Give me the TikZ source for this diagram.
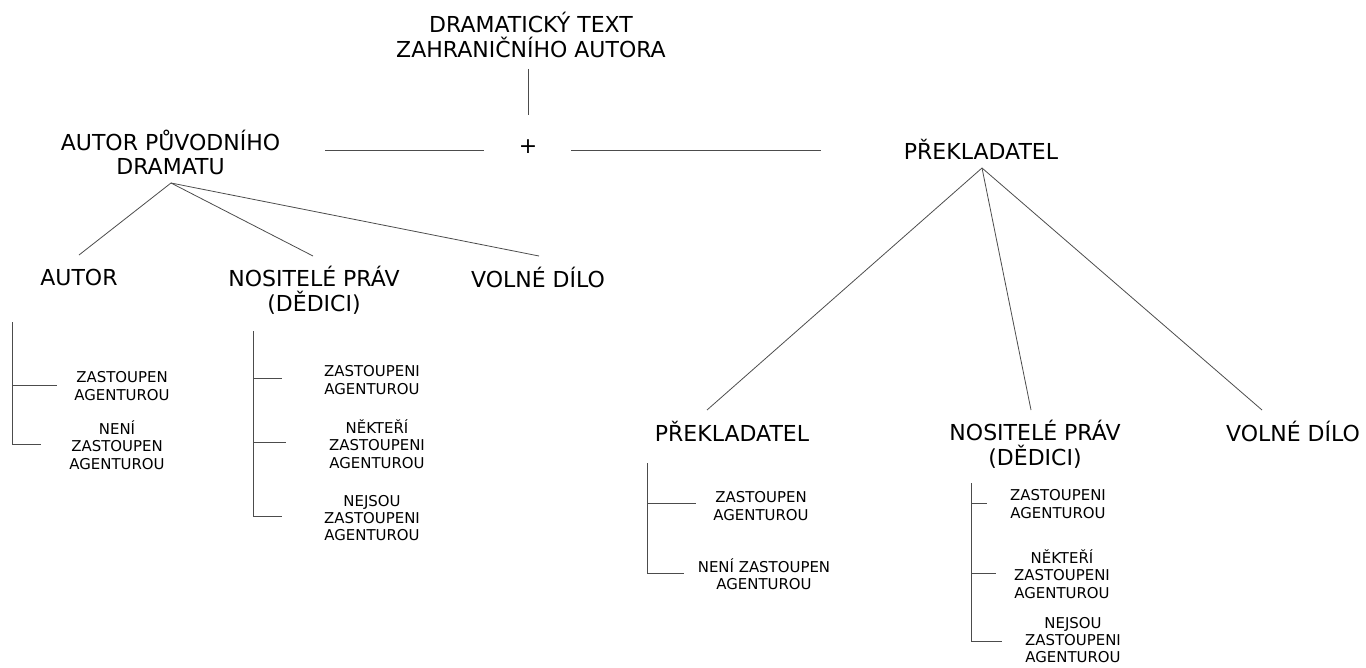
\documentclass[tikz,border=0pt]{standalone}
\usepackage{fontspec}
\setmainfont{DejaVu Sans}

\tikzset{
  big/.style={font=\fontsize{16.5}{18.5}\selectfont, align=center, inner sep=2pt},
  small/.style={font=\fontsize{11.2}{13}\selectfont, align=center, inner sep=1pt},
  conn/.style={draw=black!70, line width=0.6pt},
}

\begin{document}
\begin{tikzpicture}[x=0.75pt, y=-0.75pt]
  \useasboundingbox (0,0) rectangle (1366,667);

  % top of the tree
  \node[big] (text) at (531,35) {DRAMATICKÝ TEXT\\ZAHRANIČNÍHO AUTORA};
  \node[big] (plus) at (528,147) {+};
  \node[big] (autorpuv) at (170.5,152.5) {AUTOR PŮVODNÍHO\\DRAMATU};
  \node[big] (prekl) at (981,149.5) {PŘEKLADATEL};

  \coordinate (textend) at (528,69);
  \coordinate (plustop) at (528,115);
  \coordinate (hlA) at (325,150);
  \coordinate (hlB) at (484,150);
  \coordinate (hlC) at (571,150);
  \coordinate (hlD) at (821,150);

  \draw[conn] (textend) -- (plustop);
  \draw[conn] (hlA) -- (hlB);
  \draw[conn] (hlC) -- (hlD);

  % left branch
  \node[big] (autor) at (79,277) {AUTOR};
  \node[big] (nositel) at (314,290) {NOSITELÉ PRÁV\\(DĚDICI)};
  \node[big] (volne) at (538,277) {VOLNÉ DÍLO};

  \coordinate (fanA) at (171,183);
  \coordinate (autortop) at (79,255);
  \coordinate (nositeltop) at (313,256);
  \coordinate (volnetop) at (539,256);
  \draw[conn] (fanA) -- (autortop);
  \draw[conn] (fanA) -- (nositeltop);
  \draw[conn] (fanA) -- (volnetop);

  % right branch
  \node[big] (prekl2) at (732,431) {PŘEKLADATEL};
  \node[big] (nositel2) at (1035,444) {NOSITELÉ PRÁV\\(DĚDICI)};
  \node[big] (volne2) at (1293,431) {VOLNÉ DÍLO};

  \coordinate (fanB) at (982,168);
  \coordinate (prekl2top) at (707,410);
  \coordinate (nositel2top) at (1031,410);
  \coordinate (volne2top) at (1262,410);
  \draw[conn] (fanB) -- (prekl2top);
  \draw[conn] (fanB) -- (nositel2top);
  \draw[conn] (fanB) -- (volne2top);

  % autor
  \node[small] (a1) at (122,386) {ZASTOUPEN\\AGENTUROU};
  \node[small] (a2) at (117,445) {NENÍ\\ZASTOUPEN\\AGENTUROU};
  \coordinate (abtop) at (12,322);
  \coordinate (abmid) at (12,385);
  \coordinate (abbot) at (12,444);
  \draw[conn] (abtop) -- (abbot) -- (41,444);
  \draw[conn] (abmid) -- (57,385);

  % nositele prav
  \node[small] (n1) at (372,380) {ZASTOUPENI\\AGENTUROU};
  \node[small] (n2) at (377,444) {NĚKTEŘÍ\\ZASTOUPENI\\AGENTUROU};
  \node[small] (n3) at (372,518) {NEJSOU\\ZASTOUPENI\\AGENTUROU};
  \coordinate (nbtop) at (253,331);
  \coordinate (nbbot) at (253,516);
  \draw[conn] (nbtop) -- (nbbot) -- (282,516);
  \draw[conn] (253,378) -- (282,378);
  \draw[conn] (253,442) -- (286,442);

  % prekladatel
  \node[small] (p1) at (761,506) {ZASTOUPEN\\AGENTUROU};
  \node[small] (p2) at (764,574) {NENÍ ZASTOUPEN\\AGENTUROU};
  \coordinate (pbtop) at (647,463);
  \coordinate (pbbot) at (647,573);
  \draw[conn] (pbtop) -- (pbbot) -- (684,573);
  \draw[conn] (647,503) -- (696,503);

  % nositele prav (prekladatel)
  \node[small] (m1) at (1058,504) {ZASTOUPENI\\AGENTUROU};
  \node[small] (m2) at (1062,574) {NĚKTEŘÍ\\ZASTOUPENI\\AGENTUROU};
  \node[small] (m3) at (1073,640) {NEJSOU\\ZASTOUPENI\\AGENTUROU};
  \coordinate (mbtop) at (971,483);
  \coordinate (mbbot) at (971,641);
  \draw[conn] (mbtop) -- (mbbot) -- (1002,641);
  \draw[conn] (971,503) -- (987,503);
  \draw[conn] (971,573) -- (996,573);
\end{tikzpicture}
\end{document}
